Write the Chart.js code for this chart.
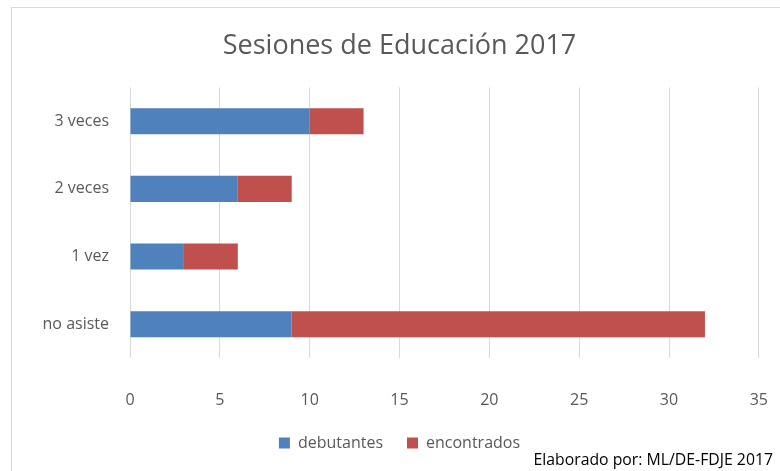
<!DOCTYPE html>
<html>
<head>
<meta charset="utf-8">
<script src="https://cdn.jsdelivr.net/npm/chart.js@4"></script>
<style>
  html, body { margin: 0; padding: 0; background: #fff; overflow: hidden; width: 780px; height: 471px; }
  #wrap { position: absolute; left: 11px; top: 7px; width: 790px; height: 464px;
          border-left: 1px solid #d9d9d9; border-top: 1px solid #d9d9d9; box-sizing: border-box; }
  #footer { position: absolute; right: 7px; top: 448px; font: 15.8px "Open Sans", sans-serif; color: #000; }
</style>
</head>
<body>
<div id="wrap"><canvas id="sesionesChart"></canvas></div>
<div id="footer">Elaborado por: ML/DE-FDJE 2017</div>
<script>
const categories = ['3 veces', '2 veces', '1 vez', 'no asiste'];
const debutantes = [10, 6, 3, 9];
const encontrados = [3, 3, 3, 23];
const xTicks = [0, 5, 10, 15, 20, 25, 30, 35];

const fontName = '"Open Sans", sans-serif';
const grey = '#595959';

const ctx = document.getElementById('sesionesChart').getContext('2d');
new Chart(ctx, {
    type: 'bar',
    data: {
        labels: categories,
        datasets: [{
            label: 'debutantes',
            data: debutantes,
            backgroundColor: '#4F81BD',
            barPercentage: 0.385,
            categoryPercentage: 1
        }, {
            label: 'encontrados',
            data: encontrados,
            backgroundColor: '#C0504D',
            barPercentage: 0.385,
            categoryPercentage: 1
        }]
    },
    options: {
        indexAxis: 'y',
        responsive: true,
        maintainAspectRatio: false,
        animation: false,
        layout: { padding: { left: 28, right: 42, bottom: 10 } },
        plugins: {
            title: {
                display: true,
                text: 'Sesiones de Educación 2017',
                color: grey,
                font: { family: fontName, size: 27, weight: 'normal' },
                padding: { top: 22, bottom: 25 }
            },
            legend: {
                position: 'bottom',
                labels: {
                    color: grey,
                    font: { family: fontName, size: 16 },
                    boxWidth: 11,
                    boxHeight: 11,
                    padding: 24
                }
            },
            tooltip: { enabled: false }
        },
        scales: {
            x: {
                stacked: true,
                min: 0,
                max: 35,
                afterBuildTicks: axis => { axis.ticks = xTicks.map(v => ({ value: v })); },
                afterFit: axis => { axis.height = 53; },
                grid: { color: '#d9d9d9', drawTicks: false },
                border: { display: false },
                ticks: { color: grey, font: { family: fontName, size: 16 }, padding: 33 }
            },
            y: {
                stacked: true,
                grid: { display: false, drawTicks: false },
                border: { display: false },
                afterFit: axis => { axis.width = 90; },
                ticks: { color: grey, font: { family: fontName, size: 16 }, padding: 21 }
            }
        }
    }
});
</script>
</body>
</html>
